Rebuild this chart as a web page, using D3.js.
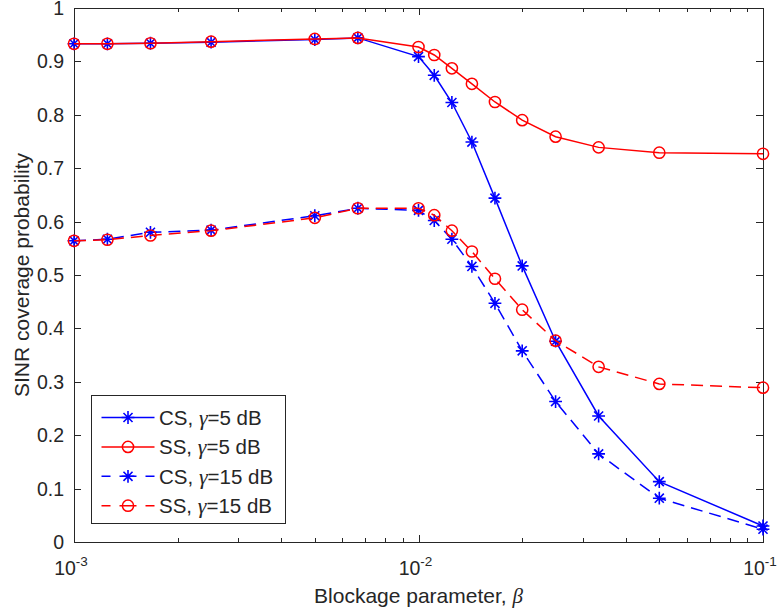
<!DOCTYPE html>
<html>
<head>
<meta charset="utf-8">
<script src="https://cdn.jsdelivr.net/npm/d3@7"></script>
<style>
  html, body { margin: 0; padding: 0; background: #fff; }
  svg { display: block; }
  text { font-family: "Liberation Sans", Arial, Helvetica, sans-serif; fill: #262626; }
</style>
</head>
<body>
<script>
// Blockage parameter values (x) and SINR coverage probability for each scheme
const beta = [0.001, 0.00125, 0.001667, 0.0025, 0.005, 0.006667, 0.01, 0.01111,
              0.0125, 0.01429, 0.01667, 0.02, 0.025, 0.03333, 0.05, 0.1];
const cs5  = [0.933, 0.933, 0.934, 0.936, 0.941, 0.944, 0.909, 0.874,
              0.823, 0.749, 0.644, 0.517, 0.376, 0.236, 0.113, 0.030];
const ss5  = [0.933, 0.933, 0.934, 0.937, 0.942, 0.944, 0.927, 0.912,
              0.887, 0.858, 0.824, 0.790, 0.759, 0.739, 0.729, 0.727];
const cs15 = [0.564, 0.567, 0.580, 0.584, 0.611, 0.625, 0.621, 0.602,
              0.567, 0.516, 0.447, 0.358, 0.263, 0.165, 0.082, 0.024];
const ss15 = [0.564, 0.566, 0.574, 0.583, 0.607, 0.625, 0.625, 0.612,
              0.583, 0.544, 0.493, 0.435, 0.377, 0.328, 0.296, 0.289];

const seriesNames = ["CS", "SS", "CS", "SS"];
const gammaLabels = ["5", "5", "15", "15"];
const yTicks = [0, 0.1, 0.2, 0.3, 0.4, 0.5, 0.6, 0.7, 0.8, 0.9, 1];
const yTickLabels = ["0", "0.1", "0.2", "0.3", "0.4", "0.5", "0.6", "0.7", "0.8", "0.9", "1"];
const xMajor = [0.001, 0.01, 0.1];
const xMajorExp = ["-3", "-2", "-1"];

const W = 779, H = 612;
const m = { left: 74, right: 16, top: 8, bottom: 70 };
const TXT = "#262626";

const svg = d3.select("body").append("svg").attr("width", W).attr("height", H);

const x = d3.scaleLog().domain([0.001, 0.1]).range([m.left, W - m.right]);
const y = d3.scaleLinear().domain([0, 1]).range([H - m.bottom, m.top]);

const series = [
  { name: seriesNames[0], g: gammaLabels[0], values: cs5,  color: "#0000ff", dash: null,   marker: "star" },
  { name: seriesNames[1], g: gammaLabels[1], values: ss5,  color: "#ff0000", dash: null,   marker: "circle" },
  { name: seriesNames[2], g: gammaLabels[2], values: cs15, color: "#0000ff", dash: "12,7", marker: "star" },
  { name: seriesNames[3], g: gammaLabels[3], values: ss15, color: "#ff0000", dash: "12,7", marker: "circle" }
];

// eight-armed asterisk marker path
function starPath(r) {
  const d = r * Math.SQRT1_2;
  return `M${-r},0L${r},0M0,${-r}L0,${r}M${-d},${-d}L${d},${d}M${-d},${d}L${d},${-d}`;
}
function drawMarker(g, type, color, cx, cy) {
  if (type === "circle") {
    g.append("circle").attr("cx", cx).attr("cy", cy).attr("r", 5.6)
      .attr("fill", "none").attr("stroke", color).attr("stroke-width", 1.5);
  } else {
    g.append("path").attr("d", starPath(6.4))
      .attr("transform", `translate(${cx},${cy})`)
      .attr("fill", "none").attr("stroke", color).attr("stroke-width", 1.6);
  }
}

// Axes box with inward ticks on all four sides
const x0 = m.left, x1 = W - m.right, y0 = H - m.bottom, y1 = m.top;
const axisG = svg.append("g");

const xAxisBottom = d3.axisBottom(x).tickValues(xMajor).tickSizeInner(-7).tickSizeOuter(0).tickFormat("");
const xAxisTop = d3.axisTop(x).tickValues(xMajor).tickSizeInner(-7).tickSizeOuter(0).tickFormat("");
const minors = [];
[0.001, 0.01].forEach(dec => { for (let k = 2; k <= 9; k++) minors.push(dec * k); });
const xMinorBottom = d3.axisBottom(x).tickValues(minors).tickSizeInner(-4).tickSizeOuter(0).tickFormat("");
const xMinorTop = d3.axisTop(x).tickValues(minors).tickSizeInner(-4).tickSizeOuter(0).tickFormat("");
const yAxisLeft = d3.axisLeft(y).tickValues(yTicks).tickSizeInner(-7).tickSizeOuter(0).tickFormat("");
const yAxisRight = d3.axisRight(y).tickValues(yTicks).tickSizeInner(-7).tickSizeOuter(0).tickFormat("");

axisG.append("g").attr("transform", `translate(0,${y0})`).call(xAxisBottom);
axisG.append("g").attr("transform", `translate(0,${y0})`).call(xMinorBottom);
axisG.append("g").attr("transform", `translate(0,${y1})`).call(xAxisTop);
axisG.append("g").attr("transform", `translate(0,${y1})`).call(xMinorTop);
axisG.append("g").attr("transform", `translate(${x0},0)`).call(yAxisLeft);
axisG.append("g").attr("transform", `translate(${x1},0)`).call(yAxisRight);
axisG.selectAll(".domain").remove();
axisG.selectAll("line").attr("stroke", TXT).attr("stroke-width", 1).attr("shape-rendering", "crispEdges");
axisG.append("rect").attr("x", x0).attr("y", y1).attr("width", x1 - x0).attr("height", y0 - y1)
  .attr("fill", "none").attr("stroke", TXT).attr("stroke-width", 1).attr("shape-rendering", "crispEdges");

// y tick labels
svg.append("g").selectAll("text").data(yTicks).join("text")
  .attr("x", x0 - 10).attr("y", d => y(d)).attr("dy", "0.36em")
  .attr("text-anchor", "end").attr("font-size", 19.5)
  .text((d, i) => yTickLabels[i]);

// x tick labels as powers of ten
const xl = svg.append("g").selectAll("text").data(xMajor).join("text")
  .attr("x", d => x(d) - 3).attr("y", y0 + 33)
  .attr("text-anchor", "middle").attr("font-size", 19.5);
xl.append("tspan").text("10");
xl.append("tspan").attr("dy", -9).attr("font-size", 13.5).text((d, i) => xMajorExp[i]);

// axis labels
const xlab = svg.append("text").attr("x", (x0 + x1) / 2).attr("y", 603)
  .attr("text-anchor", "middle").attr("font-size", 21);
xlab.append("tspan").text("Blockage parameter, ");
xlab.append("tspan").attr("font-family", "Liberation Serif, serif").attr("font-style", "italic").text("β");

svg.append("text").attr("transform", `translate(29,${(y0 + y1) / 2}) rotate(-90)`)
  .attr("text-anchor", "middle").attr("font-size", 21)
  .text("SINR coverage probability");

// data lines and markers
const plot = svg.append("g");
const line = d3.line().x(d => x(d[0])).y(d => y(d[1]));
series.forEach(s => {
  const pts = beta.map((b, i) => [b, s.values[i]]);
  const g = plot.append("g");
  g.append("path").attr("d", line(pts)).attr("fill", "none")
    .attr("stroke", s.color).attr("stroke-width", 1.5)
    .attr("stroke-dasharray", s.dash);
  pts.forEach(p => drawMarker(g, s.marker, s.color, x(p[0]), y(p[1])));
});

// legend
const lg = svg.append("g");
const lx = 91.5, ly = 395, lw = 194, lh = 128, rowH = 29.4;
lg.append("rect").attr("x", lx).attr("y", ly).attr("width", lw).attr("height", lh)
  .attr("fill", "#fff").attr("stroke", TXT).attr("stroke-width", 1).attr("shape-rendering", "crispEdges");
series.forEach((s, i) => {
  const cy = ly + 22.5 + i * rowH;
  lg.append("line").attr("x1", lx + 10).attr("x2", lx + 63).attr("y1", cy).attr("y2", cy)
    .attr("stroke", s.color).attr("stroke-width", 1.5)
    .attr("stroke-dasharray", s.dash ? "9,9,17,9,9" : null);
  drawMarker(lg, s.marker, s.color, lx + 36.5, cy);
  const t = lg.append("text").attr("x", lx + 67.5).attr("y", cy).attr("dy", "0.36em").attr("font-size", 20.5);
  t.append("tspan").text(s.name + ", ");
  t.append("tspan").attr("font-family", "Liberation Serif, serif").attr("font-style", "italic")
    .attr("font-size", 22).text("γ");
  t.append("tspan").text("=" + s.g + " dB");
});
</script>
</body>
</html>
